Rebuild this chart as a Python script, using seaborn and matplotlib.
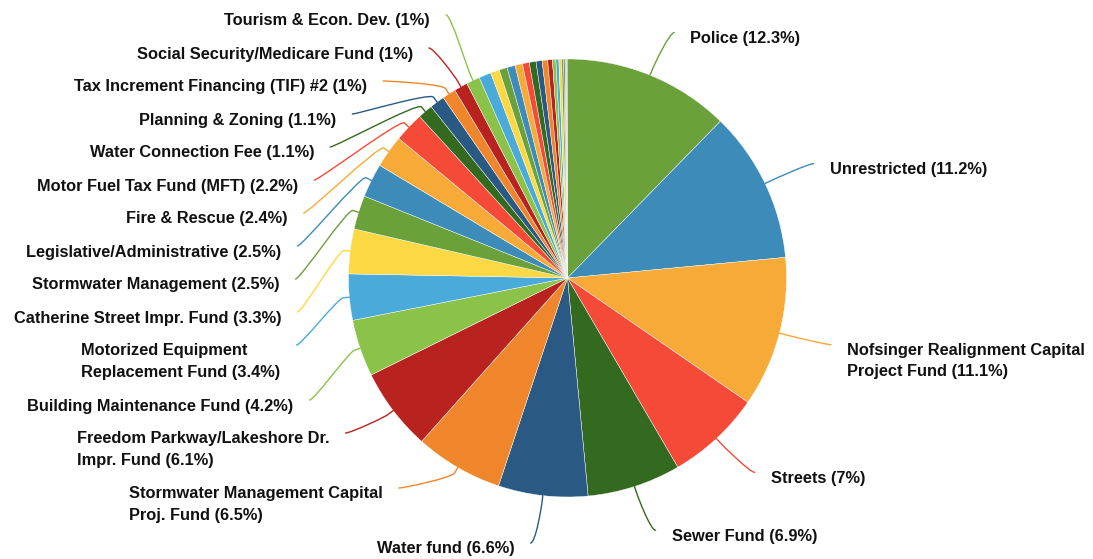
import numpy as np
import matplotlib
matplotlib.use("Agg")
import matplotlib.pyplot as plt
from matplotlib.path import Path
from matplotlib.patches import PathPatch
import seaborn as sns

# Fund names (labelled slices) and their share of the total, in percent
funds = [
    "Police",
    "Unrestricted",
    "Nofsinger Realignment Capital\nProject Fund",
    "Streets",
    "Sewer Fund",
    "Water fund",
    "Stormwater Management Capital\nProj. Fund",
    "Freedom Parkway/Lakeshore Dr.\nImpr. Fund",
    "Building Maintenance Fund",
    "Motorized Equipment\nReplacement Fund",
    "Catherine Street Impr. Fund",
    "Stormwater Management",
    "Legislative/Administrative",
    "Fire & Rescue",
    "Motor Fuel Tax Fund (MFT)",
    "Water Connection Fee",
    "Planning & Zoning",
    "Tax Increment Financing (TIF) #2",
    "Social Security/Medicare Fund",
    "Tourism & Econ. Dev.",
]
shares = [12.3, 11.2, 11.1, 7.0, 6.9, 6.6, 6.5, 6.1, 4.2, 3.4, 3.3,
          2.5, 2.5, 2.4, 2.2, 1.1, 1.1, 1.0, 1.0, 1.0]

# Remaining small funds, too thin to carry a label
minor_shares = [0.9, 0.65, 0.6, 0.6, 0.55, 0.5, 0.5, 0.45, 0.4, 0.35,
                0.25, 0.22, 0.2, 0.15, 0.1, 0.08, 0.05, 0.05]

palette = ["#6aa13a", "#3d8bb8", "#f7aa38", "#f64a39", "#346a1f", "#2a5a83",
           "#f0862c", "#b8231f", "#8bc34a", "#4aaad9", "#fdd845"]

sns.set_theme(style="white")
plt.rcParams["font.family"] = ["Liberation Sans", "DejaVu Sans"]

W, H = 1093, 559
values = np.array(shares + minor_shares, dtype=float)
colors = [palette[i % len(palette)] for i in range(len(values))]

fig = plt.figure(figsize=(W / 100, H / 100), dpi=100)
ax = fig.add_axes([0, 0, 1, 1])

# pie geometry in pixel units (y measured downward for layout)
cx, cy_pix, r = 567.5, 278.0, 219.0
cy = H - cy_pix

ax.pie(values, colors=colors, startangle=90, counterclock=False,
       center=(cx, cy), radius=r,
       wedgeprops=dict(edgecolor="white", linewidth=0.3))
ax.set_xlim(0, W)
ax.set_ylim(0, H)
ax.set_aspect("equal")
ax.axis("off")

# ---- data label layout (outside labels with soft connectors) ----
total = values.sum()
cum = np.concatenate([[0], np.cumsum(values)])
R_lab = 265.0
pad = 7.0
text_gap = 16.0
line_pitch = 22.5


def fmt(v):
    return f"{round(v, 1):g}"


labels = []
for i, (name, v) in enumerate(zip(funds, shares)):
    theta = 2 * np.pi * (cum[i] + v / 2) / total
    s, c = np.sin(theta), np.cos(theta)
    nlines = name.count("\n") + 1
    labels.append(dict(i=i, text=f"{name} ({fmt(v)}%)", s=s, c=c,
                       side=1 if s > 0 else -1,
                       nat_y=cy_pix - R_lab * c,
                       slot=33.0 if nlines == 1 else 55.0,
                       nlines=nlines))

top_bound, bottom_bound = 14.0, 543.0
for side in (1, -1):
    grp = sorted([l for l in labels if l["side"] == side], key=lambda l: l["nat_y"])
    ys = [l["nat_y"] for l in grp]
    for k in range(len(grp)):
        if k == 0:
            ys[k] = max(ys[k], top_bound)
        else:
            ys[k] = max(ys[k], ys[k - 1] + grp[k - 1]["slot"])
    for k in range(len(grp) - 1, -1, -1):
        if k == len(grp) - 1:
            ys[k] = min(ys[k], bottom_bound)
        else:
            ys[k] = min(ys[k], ys[k + 1] - grp[k]["slot"])
    for l, y in zip(grp, ys):
        l["y"] = y

for l in labels:
    dy = l["y"] - cy_pix
    dx = max(np.sqrt(max(R_lab ** 2 - dy ** 2, 0.0)), abs(R_lab * l["s"])) + pad
    side = l["side"]
    x_conn = cx + side * dx
    y_conn = H - l["y"]
    col = colors[l["i"]]

    # connector: label end -> bend point just off the rim -> rim
    ux, uy = l["s"], l["c"]
    tx, ty = cx + r * ux, cy + r * uy
    bx, by = cx + (r + 6) * ux, cy + (r + 6) * uy
    verts = [(x_conn, y_conn), (x_conn - side * 5, y_conn),
             (2 * bx - tx, 2 * by - ty), (bx, by), (tx, ty)]
    codes = [Path.MOVETO, Path.CURVE4, Path.CURVE4, Path.CURVE4, Path.LINETO]
    ax.add_patch(PathPatch(Path(verts, codes), fill=False, edgecolor=col,
                           linewidth=1.0, capstyle="round"))

    first_center = y_conn - (6.0 if l["nlines"] == 1 else 5.0)
    block_center = first_center - (line_pitch / 2) * (l["nlines"] - 1)
    ax.text(x_conn + side * text_gap, block_center, l["text"],
            ha="left" if side > 0 else "right", va="center",
            multialignment="left", fontsize=11.8, fontweight="bold",
            color="#111111", linespacing=1.55)

fig.savefig("out.png", dpi=100)
